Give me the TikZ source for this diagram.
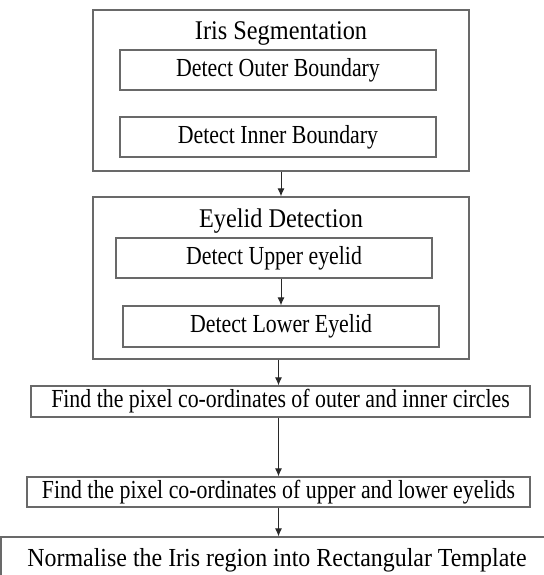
\documentclass[tikz,border=0pt]{standalone}
\usepackage{xcolor}
\usepackage{fontspec}
\setmainfont[FakeStretch=0.9]{Liberation Serif}
\newfontfamily\irboxfont[FakeStretch=0.84]{Liberation Serif}
\newfontfamily\irwidefont[FakeStretch=0.92]{Liberation Serif}
\usepackage{tikz}
\usetikzlibrary{arrows.meta,positioning}
\definecolor{irline}{RGB}{105,105,105}
\definecolor{irdark}{RGB}{40,40,40}
\tikzset{
  irgroup/.style={draw=irline, line width=1.3pt, inner sep=0pt},
  irbox/.style={draw=irline, line width=1.3pt, align=center, minimum height=40pt,
    inner sep=3pt, font=\irboxfont\fontsize{26}{28}\selectfont},
  irtitle/.style={inner sep=0pt, font=\fontsize{27}{29}\selectfont},
  irarrow/.style={-{Latex[length=8pt,width=7pt]}, line width=1pt, draw=irdark}
}
\begin{document}
\begin{tikzpicture}[x=1pt,y=-1pt]
  \useasboundingbox (0,0) rectangle (543,575);
  % segmentation group
  \node[irgroup, minimum width=376pt, minimum height=161pt] (seg) at (281,90.5) {};
  \node[irtitle] (segT) at (281,33) {Iris Segmentation};
  \node[irbox, minimum width=316pt] (outerB) at (278,70) {Detect Outer Boundary};
  \node[irbox, minimum width=316pt] (innerB) at (278,137) {Detect Inner Boundary};
  % eyelid group
  \node[irgroup, minimum width=376pt, minimum height=162pt] (eye) at (281,278) {};
  \node[irtitle] (eyeT) at (281,221) {Eyelid Detection};
  \node[irbox, minimum width=316pt] (upperE) at (274,258) {Detect Upper eyelid};
  \node[irbox, minimum width=316pt, minimum height=41pt] (lowerE) at (281,326.5) {Detect Lower Eyelid};
  % following steps
  \node[irbox, minimum width=499pt, minimum height=31pt] (circ) at (280.5,401.5) {Find the pixel co-ordinates of outer and inner circles};
  \node[irbox, minimum width=503pt, minimum height=30pt] (lids) at (278.5,492) {Find the pixel co-ordinates of upper and lower eyelids};
  \node[irbox, minimum width=552pt, minimum height=46pt, font=\irwidefont\fontsize{26}{28}\selectfont] (norm) at (277,560) {Normalise the Iris region into Rectangular Template};
  \draw[irarrow] (seg) -- (eye);
  \draw[irarrow] (upperE.south -| lowerE.north) -- (lowerE.north);
  \draw[irarrow] (eye.south -| lids.north) -- (circ.north -| lids.north);
  \draw[irarrow] (circ.south -| lids.north) -- (lids.north);
  \draw[irarrow] (lids.south) -- (lids.south |- norm.north);
\end{tikzpicture}
\end{document}
